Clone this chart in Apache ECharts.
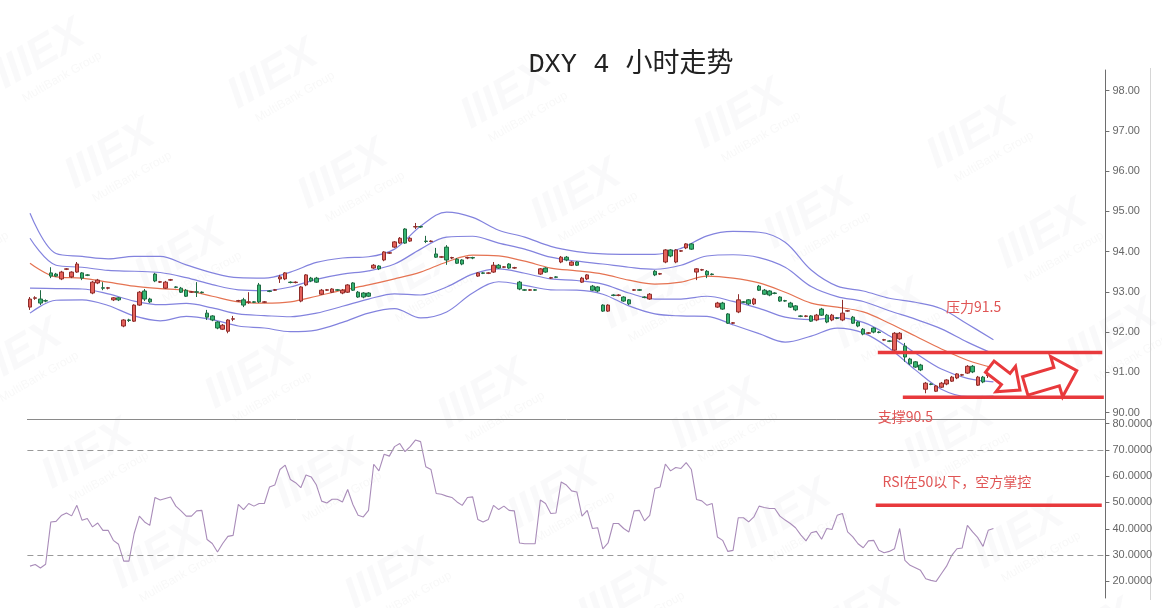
<!DOCTYPE html>
<html><head><meta charset="utf-8">
<script src="https://cdn.jsdelivr.net/npm/echarts@6/dist/echarts.min.js"></script>
<style>html,body{margin:0;padding:0;background:#fff}#c{width:1162px;height:608px}</style>
</head><body><div id="c"></div>
<script>
// ---- DATA ----
const titleText = 'DXY 4 小时走势';
// candles: [open, close, low, high]
const ohlc = [
[92.62,92.82,92.55,92.87],[92.84,92.85,92.80,92.89],[92.82,92.72,92.67,93.04],[92.78,92.77,92.74,92.81],
[93.47,93.39,93.34,93.61],[93.44,93.39,93.37,93.47],[93.32,93.49,93.29,93.52],[93.56,93.57,93.54,93.59],
[93.37,93.49,93.34,93.51],[93.49,93.69,93.47,93.74],[93.47,93.34,93.29,93.49],[93.42,93.41,93.39,93.44],
[92.97,93.24,92.94,93.27],[93.22,93.29,93.19,93.32],[93.10,93.09,93.04,93.24],[93.09,93.10,93.06,93.12],
[92.80,92.85,92.77,92.87],[92.85,92.80,92.77,92.87],[92.15,92.30,92.12,92.32],[92.30,92.29,92.25,92.33],
[92.27,92.67,92.25,92.69],[92.67,92.99,92.65,93.02],[93.02,92.82,92.77,93.07],[92.82,92.75,92.72,92.85],
[93.44,93.27,93.24,93.47],[93.24,93.25,93.22,93.27],[93.09,93.24,93.07,93.27],[93.29,93.30,93.27,93.32],
[93.12,93.11,93.09,93.14],[93.09,92.99,92.97,93.12],[93.04,92.89,92.87,93.07],[92.99,93.00,92.97,93.02],
[93.00,92.99,92.87,93.24],[92.99,92.98,92.96,93.01],[92.47,92.37,92.30,92.55],[92.40,92.30,92.27,92.42],
[92.25,92.10,92.07,92.27],[92.07,92.17,92.05,92.20],[92.02,92.30,91.97,92.32],[92.32,92.33,92.27,92.40],
[92.77,92.78,92.75,92.80],[92.80,92.67,92.62,92.85],[92.74,92.75,92.70,92.99],[92.75,92.74,92.72,92.77],
[93.17,92.75,92.72,93.22],[92.74,92.75,92.72,92.77],[93.02,93.01,92.99,93.04],[93.04,93.05,93.02,93.07],
[93.32,93.37,93.22,93.42],[93.32,93.47,93.29,93.49],[93.24,93.23,93.21,93.26],[93.23,93.24,93.21,93.26],
[92.77,93.12,92.74,93.14],[93.17,93.42,93.14,93.44],[93.34,93.27,93.24,93.37],[93.34,93.24,93.22,93.37],
[92.94,93.04,92.92,93.07],[93.04,93.05,93.02,93.07],[92.99,93.07,92.97,93.09],[93.05,93.04,93.02,93.07],
[92.97,93.04,92.94,93.07],[92.99,93.17,92.97,93.19],[93.22,93.04,93.02,93.24],[92.99,92.87,92.85,93.02],
[92.97,92.87,92.84,92.99],[92.97,92.89,92.87,92.99],[93.59,93.66,93.57,93.69],[93.64,93.57,93.54,93.66],
[93.79,93.99,93.76,94.01],[93.96,93.97,93.94,93.99],[94.11,94.24,94.09,94.26],[94.21,94.33,94.19,94.36],
[94.56,94.21,94.19,94.58],[94.26,94.33,94.24,94.36],[94.61,94.62,94.56,94.71],[94.62,94.61,94.59,94.64],
[94.26,94.25,94.21,94.39],[94.25,94.26,94.23,94.28],[93.94,93.86,93.84,94.09],[93.86,93.87,93.84,93.89],
[94.11,93.79,93.67,94.16],[93.84,93.85,93.81,93.87],[93.81,93.71,93.69,93.84],[93.79,93.69,93.66,93.81],
[93.84,93.85,93.81,93.87],[93.85,93.84,93.81,93.87],[93.39,93.47,93.37,93.49],[93.47,93.46,93.44,93.49],
[93.46,93.47,93.44,93.49],[93.49,93.66,93.47,93.74],[93.66,93.59,93.57,93.69],[93.61,93.62,93.59,93.64],
[93.69,93.59,93.57,93.71],[93.59,93.60,93.57,93.62],[93.24,93.07,93.04,93.27],[93.05,93.04,93.02,93.07],
[93.04,93.05,93.02,93.07],[93.05,93.04,93.02,93.07],[93.44,93.57,93.42,93.59],[93.59,93.49,93.47,93.61],
[93.34,93.35,93.32,93.37],[93.37,93.36,93.34,93.39],[93.74,93.86,93.71,93.89],[93.86,93.79,93.76,93.89],
[93.66,93.74,93.64,93.76],[93.74,93.66,93.64,93.76],[93.24,93.34,93.22,93.37],[93.32,93.42,93.29,93.44],
[93.14,93.04,93.02,93.17],[93.12,93.02,92.99,93.14],[92.67,92.52,92.50,92.69],[92.52,92.67,92.50,92.69],
[92.92,92.91,92.89,92.94],[92.91,92.92,92.89,92.94],[92.87,92.77,92.75,92.89],[92.80,92.70,92.67,92.82],
[93.04,93.05,93.02,93.07],[93.05,93.04,93.02,93.07],[92.87,92.86,92.84,92.89],[92.82,92.94,92.80,92.97],
[93.51,93.42,93.39,93.54],[93.44,93.45,93.42,93.47],[93.74,94.04,93.71,94.06],[94.04,93.89,93.86,94.06],
[93.74,94.04,93.71,94.06],[94.01,94.02,93.99,94.04],[94.09,94.19,94.06,94.21],[94.19,94.06,94.04,94.21],
[93.49,93.57,93.29,93.59],[93.54,93.55,93.52,93.57],[93.51,93.42,93.34,93.54],[93.44,93.43,93.41,93.46],
[92.62,92.72,92.60,92.75],[92.72,92.57,92.55,92.75],[92.45,92.22,92.20,92.47],[92.22,92.23,92.20,92.25],
[92.50,92.80,92.47,92.94],[92.75,92.74,92.72,92.77],[92.80,92.70,92.67,92.82],[92.70,92.82,92.67,92.85],
[93.14,93.04,93.02,93.17],[93.04,92.94,92.92,93.07],[93.02,92.92,92.89,93.04],[92.97,92.96,92.94,92.99],
[92.87,92.77,92.75,92.89],[92.78,92.77,92.75,92.80],[92.72,92.62,92.60,92.75],[92.65,92.55,92.52,92.67],
[92.40,92.39,92.37,92.42],[92.39,92.40,92.37,92.42],[92.40,92.27,92.25,92.42],[92.30,92.42,92.27,92.45],
[92.57,92.42,92.40,92.60],[92.42,92.25,92.22,92.45],[92.30,92.42,92.27,92.45],[92.35,92.34,92.32,92.37],
[92.30,92.47,92.27,92.80],[92.52,92.53,92.50,92.55],[92.37,92.22,92.20,92.40],[92.25,92.15,92.12,92.27],
[92.07,91.95,91.92,92.10],[91.97,91.98,91.95,92.00],[92.10,92.00,91.97,92.12],[92.00,91.99,91.97,92.02],
[91.80,91.81,91.78,91.83],[91.78,91.77,91.75,91.80],[91.55,91.97,91.53,92.00],[91.83,91.97,91.80,92.00],
[91.65,91.38,91.26,91.73],[91.33,91.21,91.18,91.36],[91.26,91.13,91.11,91.28],[91.18,91.06,91.03,91.21],
[90.58,90.73,90.48,90.76],[90.71,90.70,90.68,90.73],[90.53,90.66,90.51,90.68],[90.63,90.73,90.61,90.76],
[90.71,90.81,90.68,90.83],[90.78,90.88,90.76,90.91],[90.86,90.96,90.83,90.98],[90.93,90.94,90.91,90.96],
[90.98,91.15,90.96,91.18],[91.15,91.01,90.98,91.18],[90.68,90.88,90.66,90.91],[90.88,90.76,90.73,90.91],
[90.92,90.93,90.86,91.00],[90.97,90.98,90.95,91.00]
];
// Bollinger readings at sampled candle indices
const bandIdx = [0,5,10,15,20,25,30,35,40,45,50,55,60,65,70,75,80,85,90,95,100,105,110,115,120,125,130,135,140,145,150,155,160,165,170,175,180,185];
const bandMid = [93.71,93.37,93.34,93.24,93.14,93.08,93.03,92.89,92.75,92.72,92.75,92.89,93.04,93.17,93.32,93.49,93.74,93.91,93.89,93.76,93.59,93.52,93.44,93.29,93.19,93.24,93.39,93.34,93.22,92.99,92.72,92.62,92.50,92.22,91.90,91.58,91.30,91.11];
const bandSd  = [0.62,0.29,0.27,0.29,0.37,0.40,0.32,0.29,0.30,0.31,0.37,0.42,0.40,0.35,0.37,0.57,0.62,0.47,0.32,0.30,0.27,0.24,0.25,0.32,0.37,0.42,0.50,0.58,0.63,0.62,0.41,0.26,0.26,0.31,0.42,0.50,0.45,0.35];
// RSI per candle
const rsi = [25.8,26.4,25.1,26.5,42.6,42.8,45.0,46.0,44.9,48.9,43.2,43.9,40.7,42.2,39.4,39.4,35.6,34.1,27.7,27.7,
38.2,44.8,42.6,41.3,51.9,50.9,51.5,52.1,48.6,46.8,44.8,44.8,46.8,47.0,35.9,34.4,31.2,34.4,37.1,37.5,
49.3,47.3,49.6,48.6,49.6,49.6,55.9,56.6,62.5,64.2,58.7,57.5,55.6,60.4,59.7,56.6,50.5,49.8,51.2,51.2,
50.2,54.9,49.2,45.1,44.5,47.0,64.5,62.0,68.3,67.6,71.2,72.4,69.3,71.2,73.7,73.1,63.6,62.5,53.4,53.1,
52.4,51.9,50.2,48.9,51.9,52.1,43.5,42.6,43.5,48.9,47.3,48.6,47.0,46.8,34.6,34.3,34.3,34.3,50.9,49.6,
45.8,46.0,57.8,56.6,54.4,54.0,44.8,47.0,40.1,40.4,32.4,34.6,42.0,42.0,40.1,38.8,46.8,47.0,43.0,45.1,
55.3,55.9,64.6,62.0,63.3,62.9,65.1,62.5,51.1,50.6,48.9,49.6,36.9,35.6,31.4,31.8,44.2,44.2,42.6,44.5,
48.6,48.1,47.7,47.7,44.8,43.3,42.0,40.4,37.7,35.4,38.5,39.0,36.0,40.1,39.7,45.1,45.8,38.8,36.9,34.3,
32.8,35.4,35.6,31.8,30.9,31.4,32.4,40.1,28.0,26.1,25.2,24.2,21.0,20.4,20.0,22.9,25.8,29.9,32.4,32.7,
41.3,38.8,36.6,33.3,39.4,40.1];
const rsiGuides = [70, 30];
// annotations (x in candle-slot units, y in price / RSI)
const resistance = {level: 91.49, from: 162.8, to: 205.9, text: '压力91.5', at: [175.9, 92.62]};
const support = {level: 90.38, from: 167.6, to: 206.2, text: '支撑90.5', at: [162.8, 89.89]};
const rsiNote = {level: 48.95, from: 162.4, to: 205.8, text: 'RSI在50以下，空方掌控', at: [163.7, 57.7]};
const arrowA = {tail: [184.3, 91.14], tip: [190.1, 90.56]};
const arrowB = {tail: [191.1, 90.66], tip: [201.0, 91.04]};
const watermarkText = 'IIIEX';
const watermarkSub = 'MultiBank Group';
const slotCount = 207;

// ---- CHART ----
const categories = Array.from({length: slotCount}, (_, i) => String(i));
function band(k) {
  const arr = new Array(ohlc.length).fill(null);
  bandIdx.forEach((ix, j) => { arr[ix] = +(bandMid[j] + k * bandSd[j]).toFixed(3); });
  return arr;
}
const gridL = 27.4, gridR = 56.6;
const blue = '#8383de';
function bandSeries(k, color) {
  return {type: 'line', xAxisIndex: 0, yAxisIndex: 0, data: band(k), connectNulls: true, smooth: 0.35,
    symbol: 'none', silent: true, z: 1, lineStyle: {color: color, width: 1.2}};
}
const red = '#e8393c';
function hline(o, xi, yi) {
  return {type: 'line', xAxisIndex: xi, yAxisIndex: yi, data: [[o.from, o.level], [o.to, o.level]],
    symbol: 'none', silent: true, z: 5, lineStyle: {color: red, width: 3.5}};
}
// faint tiled watermark (decoration)
const wm = [];
for (let r = 0; r < 6; r++) {
  for (let c = -1; c < 6; c++) {
    const x = 40 + 70 * r + 233 * c - (r >= 3 ? 233 : 0);
    const y = 55 + 100 * r + 20 * c;
    if (x < -60 || x > 1180 || y < -20 || y > 640) continue;
    wm.push({type: 'group', x: x, y: y, rotation: Math.PI / 6, silent: true, z: -10, children: [
      {type: 'text', style: {text: watermarkText, x: 0, y: 0, align: 'center', verticalAlign: 'middle',
        font: 'italic bold 44px "Liberation Sans", Arial, sans-serif', fill: 'rgba(150,150,160,0.055)'}},
      {type: 'text', style: {text: watermarkSub, x: 8, y: 30, align: 'center', verticalAlign: 'middle',
        font: '12px "Liberation Sans", Arial, sans-serif', fill: 'rgba(150,150,160,0.07)'}}
    ]});
  }
}
const option = {
  animation: false,
  backgroundColor: '#fff',
  grid: [
    {left: gridL, right: gridR, top: 70, height: 349},
    {left: gridL, right: gridR, top: 419, height: 179}
  ],
  xAxis: [
    {type: 'category', gridIndex: 0, data: categories, boundaryGap: true,
     axisLine: {show: true, onZero: false, lineStyle: {color: '#8a8a8a', width: 1}}, axisTick: {show: false}, axisLabel: {show: false}, splitLine: {show: false}},
    {type: 'category', gridIndex: 1, data: categories, boundaryGap: true,
     axisLine: {show: false, onZero: false}, axisTick: {show: false}, axisLabel: {show: false}, splitLine: {show: false}},
    {type: 'value', gridIndex: 0, min: -0.5, max: slotCount - 0.5, show: false, axisLine: {onZero: false}},
    {type: 'value', gridIndex: 1, min: -0.5, max: slotCount - 0.5, show: false, axisLine: {onZero: false}}
  ],
  yAxis: [
    {type: 'value', gridIndex: 0, position: 'right', min: 89.84, max: 98.51, splitNumber: 9, scale: true,
     axisLine: {show: true, onZero: false, lineStyle: {color: '#6e6e6e'}}, axisTick: {show: true, length: 4, lineStyle: {color: '#6e6e6e'}},
     splitLine: {show: false},
     axisLabel: {showMinLabel: false, showMaxLabel: false, margin: 7, color: '#666', fontSize: 11, fontFamily: 'Liberation Sans, Arial, sans-serif',
       formatter: v => v.toFixed(2)}},
    {type: 'value', gridIndex: 1, position: 'right', min: 13.7, max: 81.7, splitNumber: 7, scale: true,
     axisLine: {show: true, onZero: false, lineStyle: {color: '#6e6e6e'}}, axisTick: {show: true, length: 4, lineStyle: {color: '#6e6e6e'}},
     splitLine: {show: false},
     axisLabel: {showMinLabel: false, showMaxLabel: false, margin: 7, color: '#666', fontSize: 11, fontFamily: 'Liberation Sans, Arial, sans-serif',
       formatter: v => v.toFixed(4)}}
  ],
  series: [
    bandSeries(2, blue), bandSeries(1, blue), bandSeries(-1, blue), bandSeries(-2, blue),
    bandSeries(0, '#e57352'),
    {type: 'candlestick', xAxisIndex: 0, yAxisIndex: 0, data: ohlc, barWidth: 4, z: 3, silent: true,
     itemStyle: {color: '#e4615b', color0: '#35b470', borderColor: '#8e2d2a', borderColor0: '#1f6a42', borderWidth: 1}},
    {type: 'line', xAxisIndex: 1, yAxisIndex: 1, data: rsi, symbol: 'none', silent: true, z: 3,
     lineStyle: {color: '#a98cb9', width: 1.1},
     markLine: {silent: true, symbol: 'none', label: {show: false},
       lineStyle: {color: '#9a9a9a', type: [6, 4], width: 1},
       data: rsiGuides.map(v => ({yAxis: v}))}},
    hline(resistance, 2, 0), hline(support, 2, 0), hline(rsiNote, 3, 1)
  ],
  graphic: wm.concat([
    {type: 'text', x: 631, y: 65, silent: true, style: {text: titleText, align: 'center', verticalAlign: 'middle',
      font: '27px "Liberation Mono", "Noto Sans CJK SC", monospace', fill: '#222'}},
    {type: 'line', shape: {x1: 1150.5, y1: 68, x2: 1150.5, y2: 600}, style: {stroke: '#d6d6d6', lineWidth: 1}, silent: true}
  ])
};
const chart = echarts.init(document.getElementById('c'));
chart.setOption(option);

function px(gi, pt) {
  return chart.convertToPixel({xAxisIndex: gi === 0 ? 2 : 3, yAxisIndex: gi}, pt);
}
function arrowPoly(a) {
  const t = px(0, a.tail), p = px(0, a.tip);
  const dx = p[0] - t[0], dy = p[1] - t[1], L = Math.hypot(dx, dy);
  const ux = dx / L, uy = dy / L, nx = -uy, ny = ux;
  const sw = a.sw, hw = a.hw, hl = a.hl;
  const bx = p[0] - ux * hl, by = p[1] - uy * hl;
  return [[t[0] + nx * sw, t[1] + ny * sw], [bx + nx * sw, by + ny * sw], [bx + nx * hw, by + ny * hw], p,
          [bx - nx * hw, by - ny * hw], [bx - nx * sw, by - ny * sw], [t[0] - nx * sw, t[1] - ny * sw]];
}
arrowA.sw = 7; arrowA.hw = 16; arrowA.hl = 18;
arrowB.sw = 9.5; arrowB.hw = 21; arrowB.hl = 21;
const noteFont = '14px "Noto Sans CJK SC", "Noto Sans", sans-serif';
function note(gi, o) {
  const q = px(gi, o.at);
  return {type: 'text', silent: true, z: 10, style: {text: o.text, x: q[0], y: q[1], align: 'left', verticalAlign: 'middle', font: noteFont, fill: '#e05555'}};
}
chart.setOption({graphic: option.graphic.concat([
  {type: 'polygon', z: 10, silent: true, shape: {points: arrowPoly(arrowA)}, style: {fill: '#fff', stroke: red, lineWidth: 3, lineJoin: 'miter'}},
  {type: 'polygon', z: 10, silent: true, shape: {points: arrowPoly(arrowB)}, style: {fill: '#fff', stroke: red, lineWidth: 3, lineJoin: 'miter'}},
  note(0, resistance), note(0, support), note(1, rsiNote)
])});
</script>
</body></html>
